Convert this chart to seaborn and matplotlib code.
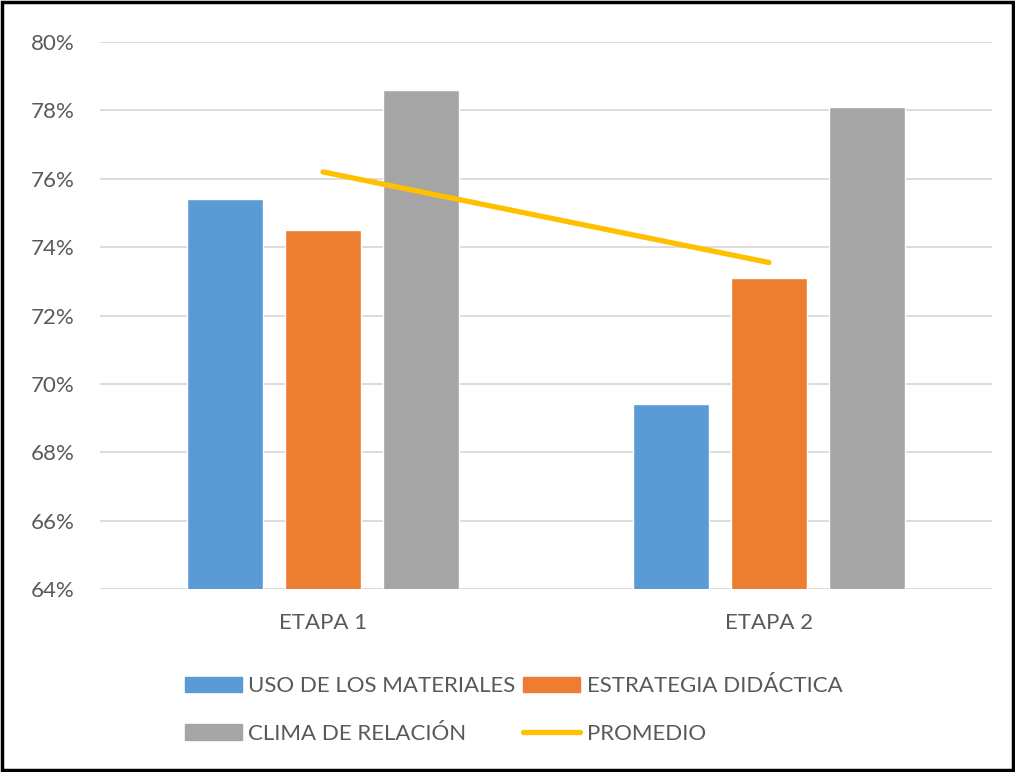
import matplotlib
matplotlib.use("Agg")
import matplotlib.pyplot as plt
import matplotlib.patches as mpatches
from matplotlib.lines import Line2D
from matplotlib.ticker import FuncFormatter
import seaborn as sns
import pandas as pd

etapas = ['ETAPA 1', 'ETAPA 2']
series = ['USO DE LOS MATERIALES', 'ESTRATEGIA DIDÁCTICA', 'CLIMA DE RELACIÓN']
uso_materiales = [75.4, 69.4]
estrategia = [74.5, 73.1]
clima = [78.6, 78.1]
promedio = [76.2, 73.55]

colors = ['#5B9BD5', '#ED7D31', '#A5A5A5']
line_color = '#FFC000'
text_color = '#595959'
fs = 16

df = pd.DataFrame({
    'etapa': etapas * 3,
    'serie': [s for s in series for _ in etapas],
    'valor': uso_materiales + estrategia + clima,
})

sns.set_style('white')
plt.rcParams['font.family'] = ['Lato', 'DejaVu Sans']

fig = plt.figure(figsize=(10.15, 7.72), dpi=100)
ax = fig.add_axes([100 / 1015, 1 - 589 / 772, 892 / 1015, 547 / 772])

sns.barplot(data=df, x='etapa', y='valor', hue='serie', palette=colors,
            saturation=1, width=0.66, gap=0.23, ax=ax, legend=False, zorder=3)
sns.lineplot(x=etapas, y=promedio, color=line_color, linewidth=3.8,
             ax=ax, zorder=4)

ax.set_xlim(-0.5, 1.5)
ax.set_ylim(64, 80)
ax.set_yticks(range(64, 81, 2))
ax.yaxis.set_major_formatter(FuncFormatter(lambda v, p: f'{v:.0f}%'))
ax.grid(axis='y', color='#D9D9D9', linewidth=1.3, zorder=0)
ax.set_axisbelow(True)
for s in ax.spines.values():
    s.set_visible(False)
ax.set_xlabel('')
ax.set_ylabel('')
ax.tick_params(axis='y', length=0, pad=18, labelsize=fs, labelcolor=text_color)
ax.tick_params(axis='x', length=0, pad=17, labelsize=fs, labelcolor=text_color)

leg_handles = [mpatches.Patch(color=colors[0]),
               mpatches.Patch(color=colors[1]),
               mpatches.Patch(color=colors[2]),
               Line2D([0], [0], color=line_color, linewidth=3.8, solid_capstyle='round')]
leg_labels = [series[0], series[1], series[2], 'PROMEDIO']
# ncol=2 fills column-wise: rows become (uso, estrategia), (clima, promedio)
order = [0, 2, 1, 3]
fig.legend([leg_handles[i] for i in order], [leg_labels[i] for i in order],
           loc='center', bbox_to_anchor=(0.506, 1 - 710 / 772), ncol=2,
           frameon=False, handlelength=2.55, handleheight=0.7,
           handletextpad=0.3, columnspacing=0.35, labelspacing=1.25,
           fontsize=fs, labelcolor=text_color)

fig.patches.append(mpatches.Rectangle((0.002, 0.002), 0.996, 0.996,
                                      transform=fig.transFigure, fill=False,
                                      edgecolor='black', linewidth=2.5))

fig.savefig('out.png', dpi=100)
